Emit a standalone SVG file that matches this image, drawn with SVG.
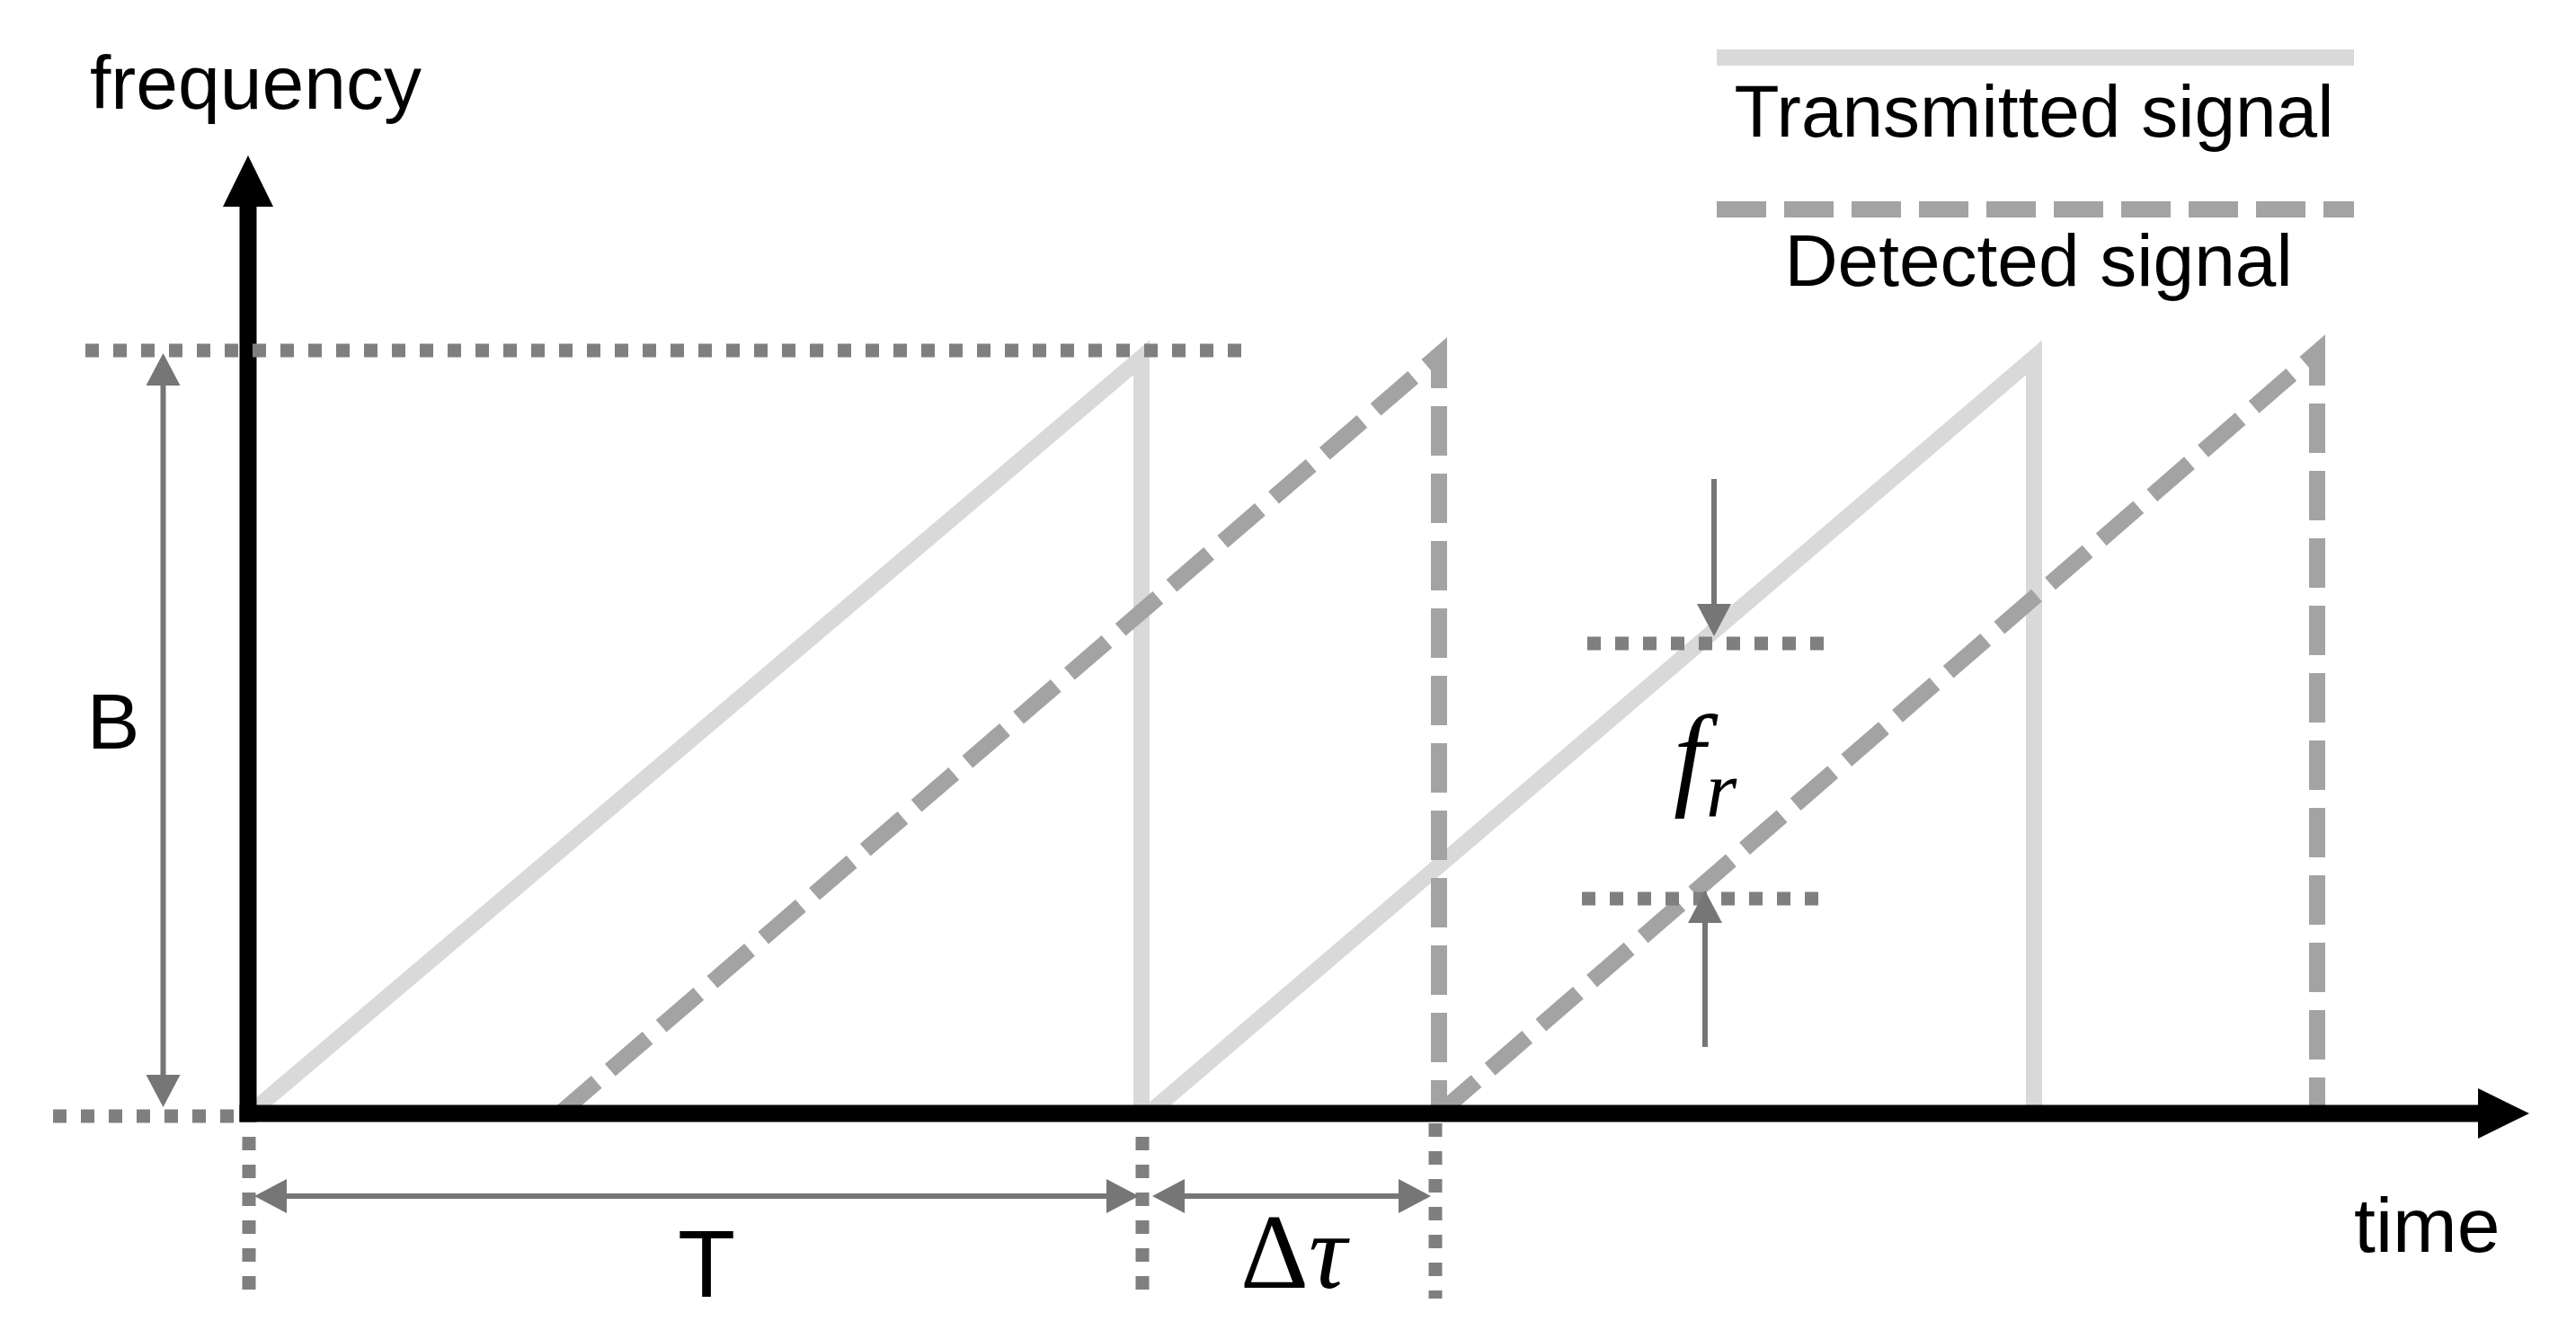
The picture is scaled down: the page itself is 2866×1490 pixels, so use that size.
<svg xmlns="http://www.w3.org/2000/svg" width="2866" height="1490" viewBox="0 0 2866 1490">
  <style>
    .tx { fill: none; stroke: #d9d9d9; stroke-width: 18; stroke-linejoin: miter; stroke-miterlimit: 10; }
    .dt { fill: none; stroke: #a3a3a3; stroke-width: 18; stroke-dasharray: 55 20; stroke-linejoin: miter; stroke-miterlimit: 10; }
    .dot { fill: none; stroke: #7f7f7f; stroke-width: 15; stroke-dasharray: 15 16; }
    .axis { fill: none; stroke: #000; stroke-width: 19; }
    .dim { fill: none; stroke: #767676; stroke-width: 6; }
    .lbl { font-family: "Liberation Sans", Arial, sans-serif; fill: #000; }
    .math { font-family: "Liberation Serif", "Times New Roman", serif; fill: #000; }
  </style>
  <defs>
    <marker id="axHead" markerUnits="userSpaceOnUse" markerWidth="57" markerHeight="56" viewBox="0 0 57 56" refX="37" refY="28" orient="auto">
      <path d="M0,0 L57,28 L0,56 z" fill="#000"/>
    </marker>
    <marker id="dimHead" markerUnits="userSpaceOnUse" markerWidth="36" markerHeight="38" viewBox="0 0 36 38" refX="26" refY="19" orient="auto-start-reverse">
      <path d="M0,0 L36,19 L0,38 z" fill="#767676"/>
    </marker>
  </defs>

  <g id="transmitted-signal">
    <path class="tx" d="M278,1239 L1270,398 L1270,1239"/>
    <path class="tx" d="M1278,1239 L2263,398 L2263,1239"/>
  </g>

  <g id="detected-signal">
    <path class="dt" style="stroke-dashoffset:1.2" d="M623,1239 L1601,395 L1601,1239"/>
    <path class="dt" style="stroke-dashoffset:0" d="M1601,1239 L2578,392 L2578,1239"/>
  </g>

  <g id="axes">
    <path class="axis" d="M276,1248.5 L276,193" marker-end="url(#axHead)"/>
    <path class="axis" d="M266.5,1239 L2794,1239" marker-end="url(#axHead)"/>
  </g>

  <g id="guides">
    <path class="dot" d="M95,390 L1388,390"/>
    <path class="dot" d="M59,1242 L265,1242"/>
    <path class="dot" d="M277,1265 L277,1440"/>
    <path class="dot" d="M1271,1265 L1271,1440"/>
    <path class="dot" d="M1597,1250 L1597,1445"/>
    <path class="dot" d="M1766,716 L2033,716"/>
    <path class="dot" d="M1760,1000 L2026,1000"/>
  </g>

  <g id="connectors">
    <path class="dim" d="M181.5,403 L181.5,1222" marker-start="url(#dimHead)" marker-end="url(#dimHead)"/>
    <path class="dim" d="M293,1331 L1257,1331" marker-start="url(#dimHead)" marker-end="url(#dimHead)"/>
    <path class="dim" d="M1292,1331 L1582,1331" marker-start="url(#dimHead)" marker-end="url(#dimHead)"/>
    <path class="dim" d="M1907,533 L1907,698" marker-end="url(#dimHead)"/>
    <path class="dim" d="M1897,1165 L1897,1001" marker-end="url(#dimHead)"/>
  </g>

  <g id="labels">
    <text class="lbl" x="100" y="121" font-size="84">frequency</text>
    <text class="lbl" x="2619" y="1393" font-size="86">time</text>
    <text class="lbl" x="126" y="833" font-size="88" text-anchor="middle">B</text>
    <text class="lbl" x="786" y="1443" font-size="105" text-anchor="middle">T</text>
    <text class="math" x="1380" y="1433" font-size="118">Δ<tspan font-style="italic">τ</tspan></text>
    <text class="math" x="1862" y="884" font-size="126" font-style="italic">f</text>
    <text class="math" x="1898" y="908" font-size="88" font-style="italic">r</text>
  </g>

  <g id="legend">
    <path class="tx" d="M1910,64 L2619,64"/>
    <text class="lbl" x="2263" y="152" font-size="82" text-anchor="middle">Transmitted signal</text>
    <path class="dt" d="M1910,233 L2619,233"/>
    <text class="lbl" x="2268" y="318" font-size="82" text-anchor="middle">Detected signal</text>
  </g>
</svg>
